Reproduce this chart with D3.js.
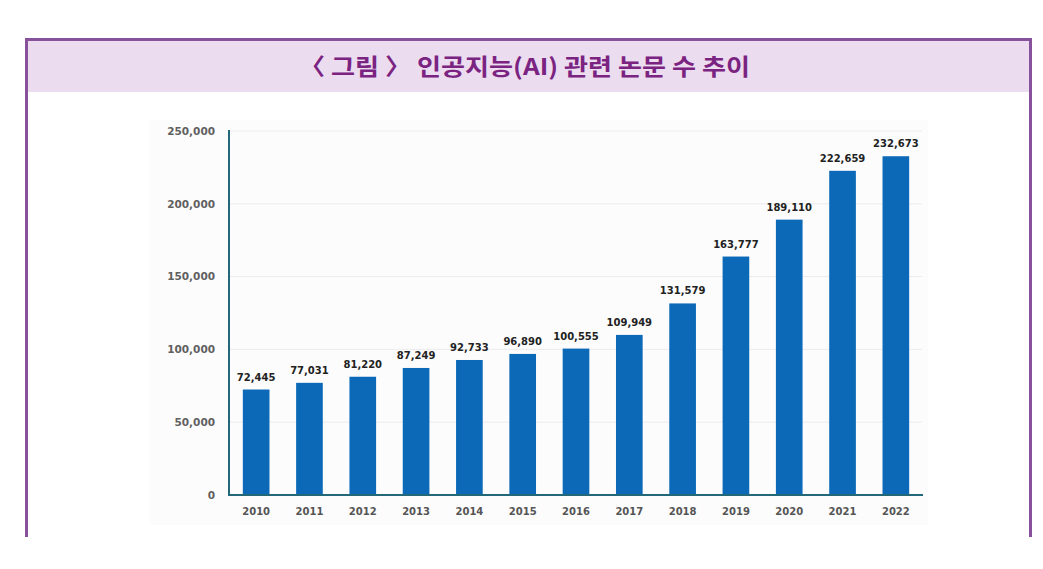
<!DOCTYPE html>
<html><head><meta charset="utf-8">
<script src="https://cdn.jsdelivr.net/npm/d3@7"></script>
<style>body{margin:0;background:#fff}svg{display:block}</style>
</head><body>
<svg id="c" width="1043" height="569"></svg>
<script>
const title = "〈 그림 〉 인공지능(AI) 관련 논문 수 추이";
const years = ["2010","2011","2012","2013","2014","2015","2016","2017","2018","2019","2020","2021","2022"];
const papers = [72445,77031,81220,87249,92733,96890,100555,109949,131579,163777,189110,222659,232673];
const yTicks = [0,50000,100000,150000,200000,250000];

const svg = d3.select("#c");
const fmt = d3.format(",");
const numFont = "'DejaVu Sans', Verdana, sans-serif";

// frame
svg.append("rect").attr("x",26.5).attr("y",40).attr("width",1004).attr("height",52).attr("fill","#ebdcef");
svg.append("path").attr("d","M26.5,537 V39.5 H1030.5 V537").attr("fill","none").attr("stroke","#87519b").attr("stroke-width",3);
svg.append("text").attr("x",299).attr("y",75)
  .attr("font-family","'Noto Sans CJK KR'").attr("font-weight","bold").attr("font-size",23)
  .attr("textLength",451).attr("lengthAdjust","spacingAndGlyphs")
  .attr("fill","#7b2381").text(title);

// chart background
svg.append("rect").attr("x",150).attr("y",120).attr("width",778).attr("height",405).attr("fill","#fcfcfc");

const x = d3.scaleBand().domain(years).range([229.5,922.5]).paddingInner(0.5).paddingOuter(0.25);
const y = d3.scaleLinear().domain([0,250000]).range([495,131]);

// grid
svg.append("g").selectAll("line").data(yTicks.slice(1)).join("line")
  .attr("x1",230).attr("x2",922).attr("y1",d=>y(d)).attr("y2",d=>y(d))
  .attr("stroke","#ececec").attr("stroke-width",1);

// y axis
const ya = svg.append("g").attr("transform","translate(229,0)")
  .call(d3.axisLeft(y).tickValues(yTicks).tickSize(0).tickPadding(14).tickFormat(fmt));
ya.select(".domain").remove();
ya.selectAll("text").attr("font-family",numFont).attr("font-size",10.5).attr("font-weight","bold").attr("fill","#606060");

// bars
svg.append("g").selectAll("rect").data(years).join("rect")
  .attr("x",d=>x(d)).attr("width",x.bandwidth())
  .attr("y",(d,i)=>y(papers[i])).attr("height",(d,i)=>y(0)-y(papers[i]))
  .attr("fill","#0b69b8");

// value labels
svg.append("g").selectAll("text").data(years).join("text")
  .attr("x",d=>x(d)+x.bandwidth()/2).attr("y",(d,i)=>y(papers[i])-9)
  .attr("text-anchor","middle").attr("font-family",numFont).attr("font-weight","bold")
  .attr("font-size",10).attr("fill","#222").text((d,i)=>fmt(papers[i]));

// axes lines
svg.append("line").attr("x1",229).attr("x2",229).attr("y1",130).attr("y2",496).attr("stroke","#226878").attr("stroke-width",2);
svg.append("line").attr("x1",228).attr("x2",923).attr("y1",495).attr("y2",495).attr("stroke","#226878").attr("stroke-width",2);

// x axis labels
const xa = svg.append("g").attr("transform","translate(0,495)")
  .call(d3.axisBottom(x).tickSize(0).tickPadding(13));
xa.select(".domain").remove();
xa.selectAll("text").attr("font-family",numFont).attr("font-size",10).attr("font-weight","bold").attr("fill","#555");
</script>
</body></html>
